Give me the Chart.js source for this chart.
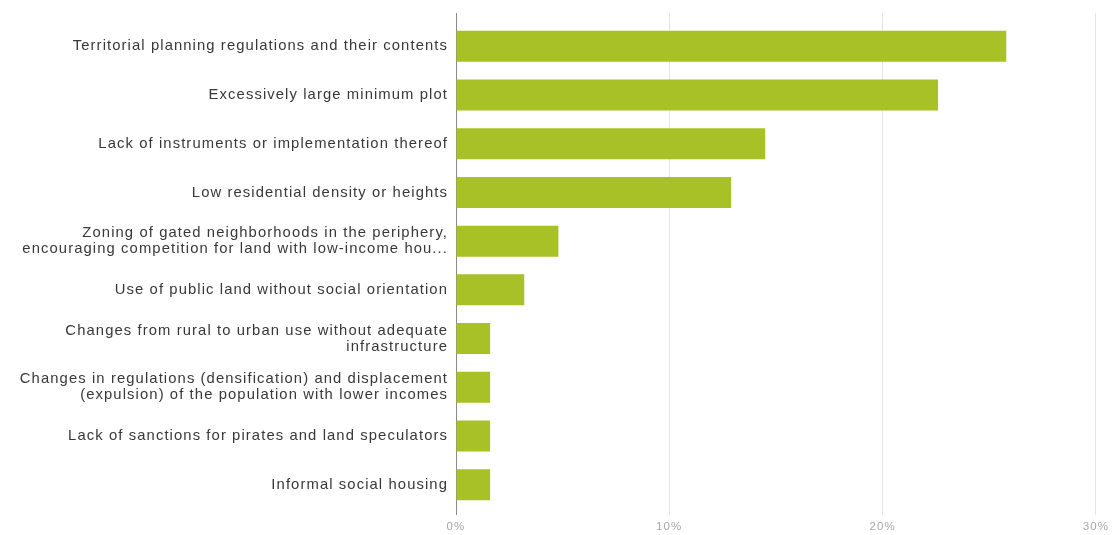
<!DOCTYPE html>
<html>
<head>
<meta charset="utf-8">
<script src="https://cdn.jsdelivr.net/npm/chart.js@4/dist/chart.umd.min.js"></script>
<style>
  html, body { margin: 0; padding: 0; background: #ffffff; }
  #wrap { width: 1114px; height: 535px; position: relative; }
</style>
</head>
<body>
<div id="wrap"><canvas id="chart"></canvas></div>
<script>
// Reasons cited (share of responses, %)
const categories = [
  "Territorial planning regulations and their contents",
  "Excessively large minimum plot",
  "Lack of instruments or implementation thereof",
  "Low residential density or heights",
  ["Zoning of gated neighborhoods in the periphery,", "encouraging competition for land with low-income hou..."],
  "Use of public land without social orientation",
  ["Changes from rural to urban use without adequate", "infrastructure"],
  ["Changes in regulations (densification) and displacement", "(expulsion) of the population with lower incomes"],
  "Lack of sanctions for pirates and land speculators",
  "Informal social housing"
];
const shares = [25.8, 22.6, 14.5, 12.9, 4.8, 3.2, 1.6, 1.6, 1.6, 1.6];
const xTicks = [0, 10, 20, 30];

// Slightly tracked-out lettering for all axis text
const tracking = {
  id: 'tracking',
  beforeLayout(chart) { chart.ctx.letterSpacing = '1.1px'; },
  beforeDraw(chart) { chart.ctx.letterSpacing = '1.1px'; }
};

// Vertical grid lines run a little above the plot area
const gridLead = {
  id: 'gridLead',
  beforeDatasetsDraw(chart) {
    const { ctx, chartArea, scales } = chart;
    ctx.save();
    xTicks.forEach(v => {
      const x = Math.round(scales.x.getPixelForValue(v) - 0.5) + 0.5;
      ctx.strokeStyle = v === 0 ? '#8a8a8a' : '#e3e3e3';
      ctx.lineWidth = 1;
      ctx.beginPath();
      ctx.moveTo(x, chartArea.top - 9);
      ctx.lineTo(x, chartArea.top);
      ctx.stroke();
    });
    ctx.restore();
  }
};

new Chart(document.getElementById('chart'), {
  type: 'bar',
  data: {
    labels: categories,
    datasets: [{
      data: shares,
      backgroundColor: '#a8c126',
      borderWidth: 0,
      categoryPercentage: 1,
      barPercentage: 0.636
    }]
  },
  options: {
    indexAxis: 'y',
    responsive: true,
    maintainAspectRatio: false,
    animation: false,
    layout: { padding: { top: 22, right: 16, bottom: 0, left: 0 } },
    plugins: { legend: { display: false }, tooltip: { enabled: false } },
    scales: {
      x: {
        min: 0, max: 30,
        afterBuildTicks(scale) { scale.ticks = xTicks.map(v => ({ value: v })); },
        afterFit(scale) { scale.height = 26; },
        border: { display: false },
        grid: {
          color: ctx => (ctx.tick && ctx.tick.value === 0) ? '#8a8a8a' : '#e3e3e3',
          tickLength: 6,
          lineWidth: 1
        },
        ticks: {
          padding: 5,
          color: '#a8a8a8',
          font: { family: 'Liberation Sans, Arial, sans-serif', size: 11.5 },
          callback: v => v + '%'
        }
      },
      y: {
        afterFit(scale) { scale.width = 456; },
        border: { display: false },
        grid: { display: false, drawTicks: false },
        ticks: {
          padding: 8,
          color: '#383838',
          font: { family: 'Liberation Sans, Arial, sans-serif', size: 14.8, lineHeight: 1.09 },
          autoSkip: false
        }
      }
    }
  },
  plugins: [tracking, gridLead]
});
</script>
</body>
</html>
